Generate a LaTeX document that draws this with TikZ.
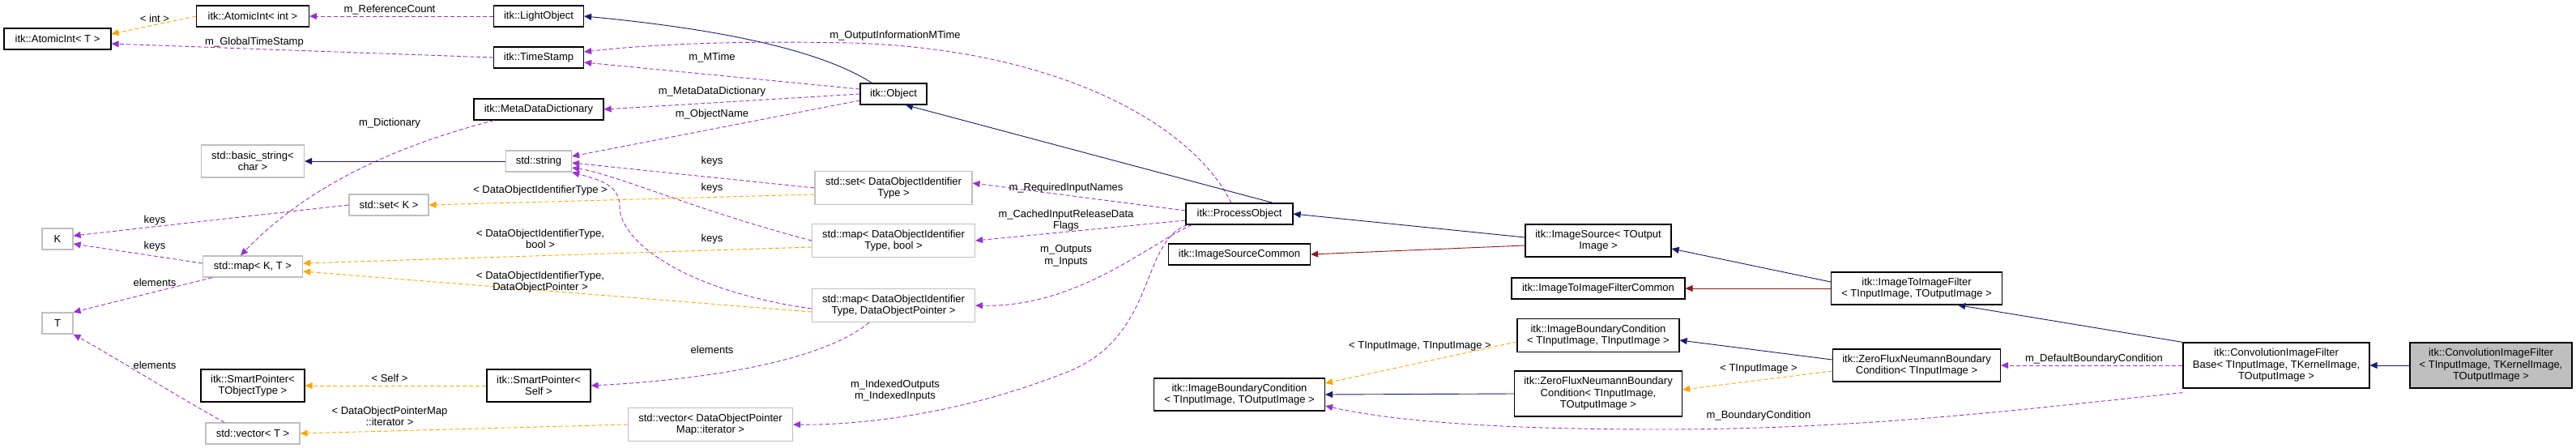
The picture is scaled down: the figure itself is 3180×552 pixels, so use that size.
\documentclass[tikz,border=0pt]{standalone}
\usepackage{fontspec}
\setmainfont{Liberation Sans}
\usetikzlibrary{arrows.meta}
\definecolor{inh}{HTML}{191970}
\definecolor{use}{HTML}{9A32CD}
\definecolor{tpl}{HTML}{FFA500}
\definecolor{prv}{HTML}{8B1A1A}
\begin{document}
\begin{tikzpicture}[x=1pt,y=-1pt,
  cls/.style={draw=black,line width=1.2pt,fill=white,inner sep=1pt,align=center,font=\fontsize{13}{14.5}\selectfont},
  ext/.style={cls,draw=black!25},
  lbl/.style={font=\fontsize{13}{14.5}\selectfont,align=center,inner sep=1pt},
  ar/.style={-{Triangle[length=9pt,width=8pt]},line width=0.9pt},
  inhe/.style={ar,draw=inh},
  usee/.style={ar,draw=use,dash pattern=on 5pt off 3pt},
  tple/.style={ar,draw=tpl,dash pattern=on 5pt off 3pt},
  prve/.style={ar,draw=prv}]
\useasboundingbox (0,0) rectangle (3180,552);
% nodes
\node[cls,minimum width=132,minimum height=26] (ait) at (71,48) {itk::AtomicInt< T >};
\node[cls,minimum width=139,minimum height=26] (aii) at (312,20) {itk::AtomicInt< int >};
\node[cls,minimum width=111,minimum height=26] (lo) at (665,20) {itk::LightObject};
\node[cls,minimum width=111,minimum height=26] (ts) at (665,71) {itk::TimeStamp};
\node[cls,minimum width=160,minimum height=26] (mdd) at (665,135) {itk::MetaDataDictionary};
\node[ext,minimum width=127,minimum height=40] (bs) at (312,199) {std::basic\_string<\\char >};
\node[ext,minimum width=81,minimum height=26] (str) at (665,199) {std::string};
\node[ext,minimum width=98,minimum height=26] (setk) at (480,253) {std::set< K >};
\node[ext,minimum width=38,minimum height=26] (k) at (71,295) {K};
\node[ext,minimum width=123,minimum height=26] (mapkt) at (312,329) {std::map< K, T >};
\node[ext,minimum width=38,minimum height=26] (t) at (71,399) {T};
\node[cls,minimum width=128,minimum height=40] (spt) at (312,476) {itk::SmartPointer<\\TObjectType >};
\node[cls,minimum width=128,minimum height=40] (sps) at (665,476) {itk::SmartPointer<\\Self >};
\node[ext,minimum width=116,minimum height=26] (vt) at (312,535) {std::vector< T >};
\node[cls,minimum width=82,minimum height=26] (obj) at (1103,116) {itk::Object};
\node[ext,minimum width=194,minimum height=41] (setd) at (1103,232) {std::set< DataObjectIdentifier\\Type >};
\node[ext,minimum width=201,minimum height=41] (mapb) at (1103,297) {std::map< DataObjectIdentifier\\Type, bool >};
\node[ext,minimum width=201,minimum height=41] (mapp) at (1103,377) {std::map< DataObjectIdentifier\\Type, DataObjectPointer >};
\node[ext,minimum width=203,minimum height=41] (vdp) at (877,524) {std::vector< DataObjectPointer\\Map::iterator >};
\node[cls,minimum width=132,minimum height=26] (po) at (1530,264) {itk::ProcessObject};
\node[cls,minimum width=175,minimum height=26] (isc) at (1530,314) {itk::ImageSourceCommon};
\node[cls,minimum width=180,minimum height=40] (is) at (1973,297) {itk::ImageSource< TOutput\\Image >};
\node[cls,minimum width=214,minimum height=26] (iifc) at (1973,356) {itk::ImageToImageFilterCommon};
\node[cls,minimum width=211,minimum height=40] (iif) at (2366,356) {itk::ImageToImageFilter\\< TInputImage, TOutputImage >};
\node[cls,minimum width=200,minimum height=41] (ibci) at (1973,414) {itk::ImageBoundaryCondition\\< TInputImage, TInputImage >};
\node[cls,minimum width=207,minimum height=56] (zfo) at (1973,486) {itk::ZeroFluxNeumannBoundary\\Condition< TInputImage,\\TOutputImage >};
\node[cls,minimum width=211,minimum height=40] (ibco) at (1530,487) {itk::ImageBoundaryCondition\\< TInputImage, TOutputImage >};
\node[cls,minimum width=207,minimum height=40] (zfi) at (2366,451) {itk::ZeroFluxNeumannBoundary\\Condition< TInputImage >};
\node[cls,minimum width=230,minimum height=56] (cb) at (2810,451) {itk::ConvolutionImageFilter\\Base< TInputImage, TKernelImage,\\TOutputImage >};
\node[cls,fill=black!25,minimum width=200,minimum height=56] (cf) at (3075,451) {itk::ConvolutionImageFilter\\< TInputImage, TKernelImage,\\TOutputImage >};
% edges
\draw[tple] (aii.west) -- ([yshift=6]ait.east);
\draw[usee] (lo.west) -- (aii.east);
\draw[usee] (ts.west) -- ([yshift=-6]ait.east);
\draw[inhe] ([xshift=15]obj.north west) .. controls (1010,60) and (880,35) .. (lo.east);
\draw[usee] ([xshift=-10]po.north) .. controls (1470,150) and (1300,60) .. (1050,53) .. controls (900,50) and (800,55) .. ([yshift=7]ts.east);
\draw[usee] ([yshift=6]obj.west) -- ([yshift=-6]ts.east);
\draw[usee] (obj.west) -- (mdd.east);
\draw[usee] ([yshift=-8]obj.west) -- ([yshift=6]str.east);
\draw[usee] (setd.west) -- ([yshift=-2]str.east);
\draw[usee] (mapb.west) .. controls (860,260) and (760,215) .. ([yshift=-8]str.east);
\draw[usee] ([yshift=-4]mapp.west) .. controls (850,360) and (765,300) .. (765,255) .. controls (765,228) and (740,222) .. (str.south east);
\draw[usee] ([xshift=-30]mapp.south) .. controls (1010,450) and (850,470) .. (sps.east);
\draw[usee] ([xshift=-55]mdd.south) .. controls (450,190) and (360,250) .. ([xshift=-15]mapkt.north);
\draw[inhe] (str.west) -- (bs.east);
\draw[usee] (setk.west) -- ([yshift=4]k.east);
\draw[usee] ([yshift=4]mapkt.west) -- ([yshift=-6]k.east);
\draw[usee] ([xshift=-50]mapkt.south) -- (t.north east);
\draw[usee] ([xshift=-35]vt.north) .. controls (220,490) and (140,440) .. (t.south east);
\draw[tple] (sps.west) -- (spt.east);
\draw[tple] (vdp.west) -- (vt.east);
\draw[tple] ([yshift=-8]setd.west) -- (setk.east);
\draw[tple] ([yshift=-8]mapb.west) -- ([yshift=4]mapkt.east);
\draw[tple] ([yshift=-8]mapp.west) -- ([yshift=-6]mapkt.east);
\draw[usee] ([yshift=4]po.west) -- ([yshift=6]setd.east);
\draw[usee] ([yshift=-8]po.west) -- (mapb.east);
\draw[usee] ([xshift=8]po.south west) .. controls (1420,300) and (1330,380) .. (mapp.east);
\draw[usee] ([xshift=2]po.south west) .. controls (1405,300) and (1430,420) .. (1310,462) .. controls (1200,505) and (1080,525) .. (vdp.east);
\draw[inhe] ([xshift=-25]po.north east) -- ([xshift=15]obj.south);
\draw[inhe] ([yshift=4]is.west) -- (po.east);
\draw[prve] ([yshift=-6]is.west) -- (isc.east);
\draw[inhe] ([yshift=8]iif.west) -- ([yshift=-10]is.east);
\draw[prve] (iif.west) -- (iifc.east);
\draw[inhe] ([yshift=7]zfi.west) -- ([yshift=-6]ibci.east);
\draw[tple] ([yshift=-7]zfi.west) -- ([yshift=5]zfo.east);
\draw[tple] ([yshift=-8]ibci.west) -- ([yshift=14]ibco.east);
\draw[inhe] (zfo.west) -- (ibco.east);
\draw[usee] ([yshift=-5]cb.south west) .. controls (2500,505) and (2300,530) .. (2050,530) .. controls (1850,530) and (1720,520) .. ([yshift=-14]ibco.east);
\draw[inhe] (cb.north west) -- ([xshift=-55]iif.south east);
\draw[usee] (cb.west) -- (zfi.east);
\draw[inhe] (cf.west) -- (cb.east);
% labels
\node[lbl] (l1) at (191,23) {< int >};
\node[lbl] (l2) at (481,12) {m\_ReferenceCount};
\node[lbl] (l3) at (314,52) {m\_GlobalTimeStamp};
\node[lbl] (l4) at (481,152) {m\_Dictionary};
\node[lbl] (l5) at (191,272) {keys};
\node[lbl] (l6) at (191,304) {keys};
\node[lbl] (l7) at (191,349) {elements};
\node[lbl] (l8) at (191,451) {elements};
\node[lbl] (l9) at (481,467) {< Self >};
\node[lbl] (l10) at (481,514) {< DataObjectPointerMap\\::iterator >};
\node[lbl] (l11) at (667,235) {< DataObjectIdentifierType >};
\node[lbl] (l12) at (667,295) {< DataObjectIdentifierType,\\bool >};
\node[lbl] (l13) at (667,348) {< DataObjectIdentifierType,\\DataObjectPointer >};
\node[lbl] (l14) at (1105,44) {m\_OutputInformationMTime};
\node[lbl] (l15) at (879,71) {m\_MTime};
\node[lbl] (l16) at (879,113) {m\_MetaDataDictionary};
\node[lbl] (l17) at (879,141) {m\_ObjectName};
\node[lbl] (l18) at (879,199) {keys};
\node[lbl] (l19) at (879,232) {keys};
\node[lbl] (l20) at (879,295) {keys};
\node[lbl] (l21) at (879,432) {elements};
\node[lbl] (l22) at (1316,232) {m\_RequiredInputNames};
\node[lbl] (l23) at (1316,272) {m\_CachedInputReleaseData\\Flags};
\node[lbl] (l24) at (1316,316) {m\_Outputs\\m\_Inputs};
\node[lbl] (l25) at (1105,482) {m\_IndexedOutputs\\m\_IndexedInputs};
\node[lbl] (l26) at (2171,455) {< TInputImage >};
\node[lbl] (l27) at (1753,427) {< TInputImage, TInputImage >};
\node[lbl] (l28) at (2171,513) {m\_BoundaryCondition};
\node[lbl] (l29) at (2585,443) {m\_DefaultBoundaryCondition};
\end{tikzpicture}
\end{document}
